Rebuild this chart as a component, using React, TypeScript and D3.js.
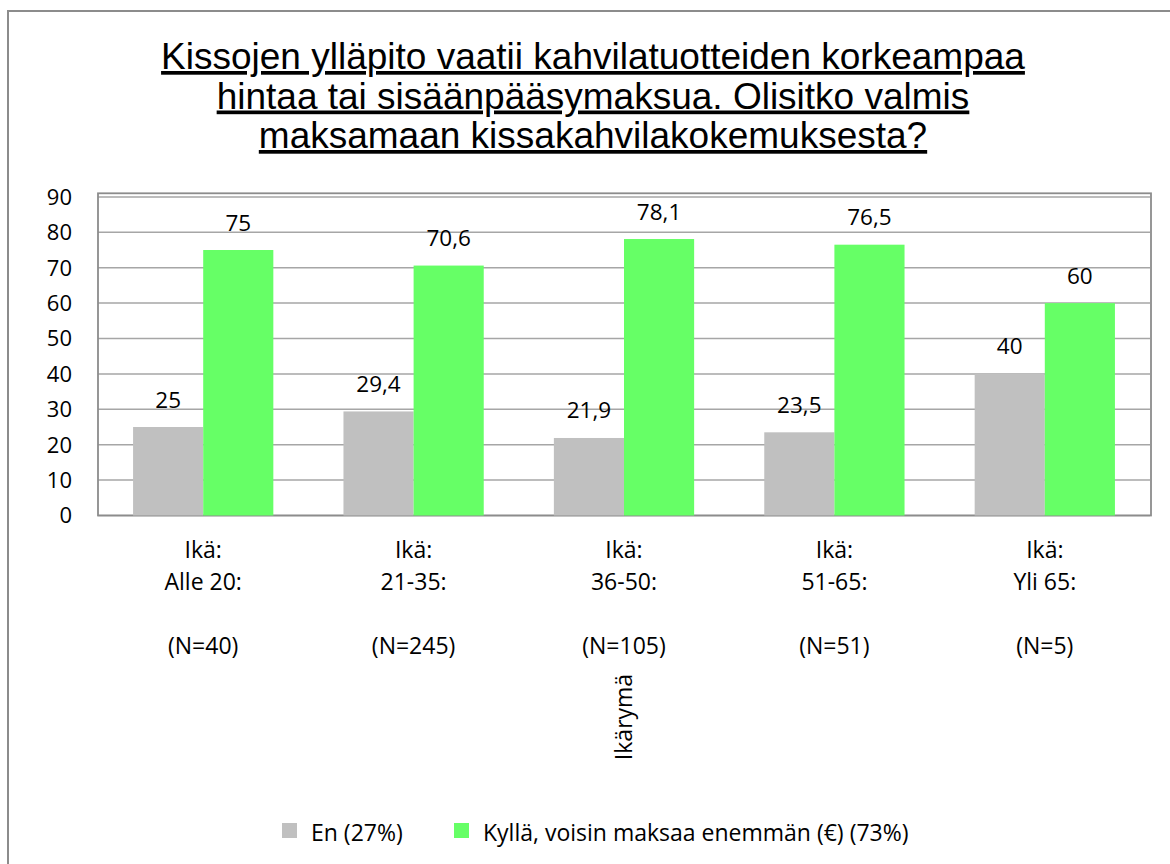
import React from "react";
import * as d3 from "d3";

const titleLines = [
  "Kissojen ylläpito vaatii kahvilatuotteiden korkeampaa",
  "hintaa tai sisäänpääsymaksua. Olisitko valmis",
  "maksamaan kissakahvilakokemuksesta?",
];
const categories = ["Alle 20", "21-35", "36-50", "51-65", "Yli 65"];
const categoryLines = [
  ["Ikä:", "Alle 20:", "", "(N=40)"],
  ["Ikä:", "21-35:", "", "(N=245)"],
  ["Ikä:", "36-50:", "", "(N=105)"],
  ["Ikä:", "51-65:", "", "(N=51)"],
  ["Ikä:", "Yli 65:", "", "(N=5)"],
];
const seriesNames = ["En (27%)", "Kyllä, voisin maksaa enemmän (€) (73%)"];
const seriesColors = ["#C0C0C0", "#66FF66"];
const enValues = [25, 29.4, 21.9, 23.5, 40];
const kyllaValues = [75, 70.6, 78.1, 76.5, 60];
const yTicks = [0, 10, 20, 30, 40, 50, 60, 70, 80, 90];
const axisTitle = "Ikärymä";

const labelFont = "'Open Sans', sans-serif";

export default function App() {
  const left = 98;
  const right = 1150;
  const top = 196.9;
  const bottom = 515.5;

  const x = d3
    .scaleBand<string>()
    .domain(categories)
    .range([left, right])
    .paddingInner(1 / 3)
    .paddingOuter(1 / 6);
  const xs = d3
    .scaleBand<number>()
    .domain([0, 1])
    .range([0, x.bandwidth()]);
  const y = d3.scaleLinear().domain([0, 90]).range([bottom, top]);

  const series = [enValues, kyllaValues];
  const fmt = (v: number) => String(v).replace(".", ",");

  return (
    <svg
      width={1170}
      height={864}
      style={{ position: "absolute", left: 0, top: 0, background: "#fff" }}
    >
      <rect x={0} y={0} width={1170} height={864} fill="#fff" />
      <rect
        x={8}
        y={11}
        width={1300}
        height={1000}
        fill="none"
        stroke="#8c8c8c"
        strokeWidth={2}
      />
      {titleLines.map((t, i) => (
        <text
          key={i}
          x={593}
          y={69 + i * 39.5}
          textAnchor="middle"
          fontFamily="'Liberation Sans', Arial, sans-serif"
          fontSize={37}
          textDecoration="underline"
          fill="#000"
        >
          {t}
        </text>
      ))}
      {/* gridlines */}
      {yTicks.map((t) => (
        <line
          key={t}
          x1={left}
          x2={right}
          y1={y(t)}
          y2={y(t)}
          stroke="#a6a6a6"
          strokeWidth={1.5}
        />
      ))}
      {/* plot border */}
      <rect
        x={left}
        y={193.3}
        width={right + 1 - left}
        height={bottom - 193.3}
        fill="none"
        stroke="#8c8c8c"
        strokeWidth={1.8}
      />
      {/* y tick labels */}
      {yTicks.map((t) => (
        <text
          key={t}
          x={72}
          y={y(t) + 7.8}
          textAnchor="end"
          fontFamily={labelFont}
          fontSize={22}
          fill="#000"
        >
          {t}
        </text>
      ))}
      {/* bars */}
      {categories.map((c, ci) =>
        series.map((s, si) => (
          <rect
            key={c + si}
            x={(x(c) as number) + (xs(si) as number)}
            y={y(s[ci])}
            width={xs.bandwidth()}
            height={bottom - y(s[ci])}
            fill={seriesColors[si]}
          />
        ))
      )}
      {/* data labels */}
      {categories.map((c, ci) =>
        series.map((s, si) => (
          <text
            key={"l" + c + si}
            x={(x(c) as number) + (xs(si) as number) + xs.bandwidth() / 2}
            y={y(s[ci]) - 19.5}
            textAnchor="middle"
            fontFamily={labelFont}
            fontSize={22.5}
            fill="#000"
          >
            {fmt(s[ci])}
          </text>
        ))
      )}
      {/* category labels */}
      {categories.map((c, ci) =>
        categoryLines[ci].map((ln, li) => (
          <text
            key={"c" + ci + li}
            x={(x(c) as number) + x.bandwidth() / 2}
            y={557.5 + li * 32.3}
            textAnchor="middle"
            fontFamily={labelFont}
            fontSize={23}
            fill="#000"
          >
            {ln}
          </text>
        ))
      )}
      {/* axis title */}
      <text
        transform={`translate(632,717) rotate(-90)`}
        textAnchor="middle"
        fontFamily={labelFont}
        fontSize={23}
        fill="#000"
      >
        {axisTitle}
      </text>
      {/* legend */}
      <rect x={282} y={823} width={15} height={15} fill={seriesColors[0]} />
      <text x={311} y={840.5} fontFamily={labelFont} fontSize={23} fill="#000">
        {seriesNames[0]}
      </text>
      <rect x={454} y={823} width={15} height={15} fill={seriesColors[1]} />
      <text x={483} y={840.5} fontFamily={labelFont} fontSize={23} fill="#000">
        {seriesNames[1]}
      </text>
    </svg>
  );
}
